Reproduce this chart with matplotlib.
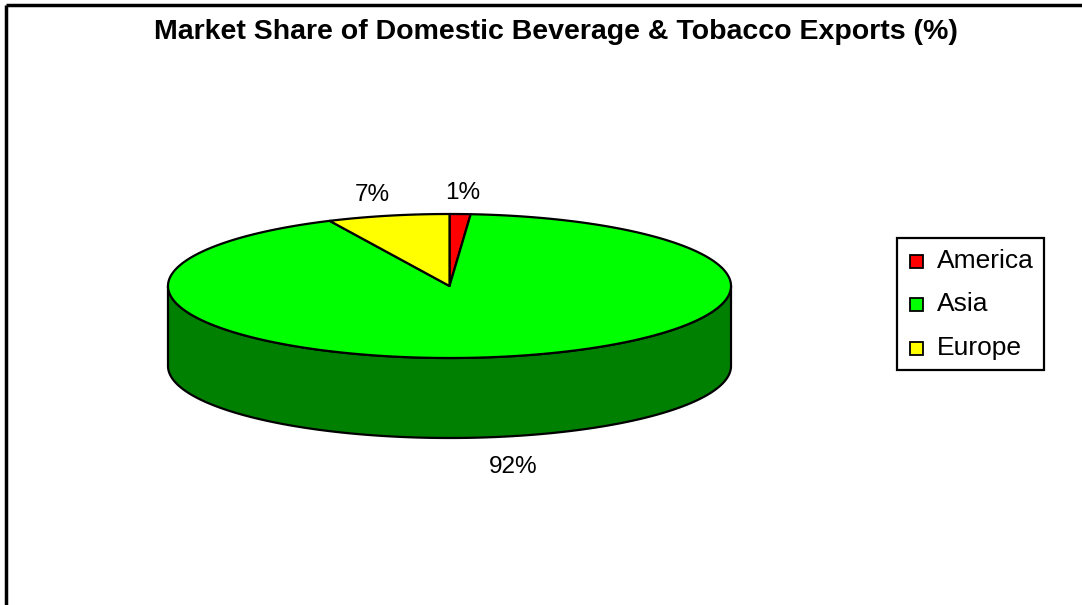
import numpy as np
import matplotlib
matplotlib.use("Agg")
import matplotlib.pyplot as plt
from matplotlib.patches import Polygon, Rectangle

plt.rcParams['font.family'] = ['Liberation Sans', 'DejaVu Sans']

# ---- data ----
title = "Market Share of Domestic Beverage & Tobacco Exports (%)"
categories = ["America", "Asia", "Europe"]
values = [1.2, 91.8, 7.0]
top_colors = ["#FF0000", "#00FF00", "#FFFF00"]
side_colors = ["#800000", "#008000", "#808000"]

# ---- layout (pixel coordinates) ----
W, H = 1082, 605
cx, cy = 449.5, 286.0
rx, ry = 281.5, 72.0
depth = 80.0

fig = plt.figure(figsize=(W / 100, H / 100), dpi=100)
ax = fig.add_axes([0, 0, 1, 1])
ax.set_xlim(0, W)
ax.set_ylim(H, 0)
ax.axis("off")


def pt(theta_deg, rxx=rx, ryy=ry, dy=0.0):
    t = np.radians(theta_deg)
    return cx + rxx * np.sin(t), cy - ryy * np.cos(t) + dy


total = float(sum(values))
starts = np.concatenate([[0.0], np.cumsum(values)[:-1]]) / total * 360.0
ends = np.cumsum(values) / total * 360.0

# side faces (front half: theta in [90, 270])
for s, e, sc in zip(starts, ends, side_colors):
    a0, a1 = max(s, 90.0), min(e, 270.0)
    if a1 <= a0:
        continue
    th = np.linspace(a0, a1, 200)
    xs, ys = pt(th)
    xb, yb = pt(th[::-1], dy=depth)
    poly = np.column_stack([np.concatenate([xs, xb]), np.concatenate([ys, yb])])
    ax.add_patch(Polygon(poly, closed=True, facecolor=sc, edgecolor="black",
                         linewidth=1.6, joinstyle="round", zorder=2))

# top faces
for s, e, tc in zip(starts, ends, top_colors):
    th = np.linspace(s, e, max(int((e - s) * 3), 4))
    xs, ys = pt(th)
    poly = np.column_stack([np.concatenate([[cx], xs]), np.concatenate([[cy], ys])])
    ax.add_patch(Polygon(poly, closed=True, facecolor=tc, edgecolor="black",
                         linewidth=1.6, joinstyle="round", zorder=3))

# percentage labels
Rl, Rly = 352.0, 93.0
for s, e, v in zip(starts, ends, values):
    mid = (s + e) / 2.0
    dy = depth + 10 if 90 < mid < 270 else 0.0
    x, y = pt(mid, Rl, Rly, dy)
    ax.text(x, y, f"{round(v / total * 100):.0f}%", ha="center", va="center",
            fontsize=17.5, zorder=5)

# title
ax.text(556, 32, title, ha="center", va="center", fontsize=20.5,
        fontweight="bold", zorder=5)

# legend
lx0, ly0, lw, lh = 897, 238, 147, 132
ax.add_patch(Rectangle((lx0, ly0), lw, lh, facecolor="white", edgecolor="black",
                       linewidth=1.6, zorder=4))
row_y = [261, 304, 348]
for yy, name, c in zip(row_y, categories, top_colors):
    ax.add_patch(Rectangle((910, yy - 6.5), 13, 13, facecolor=c, edgecolor="black",
                           linewidth=1.3, zorder=5))
    ax.text(937, yy, name, ha="left", va="center", fontsize=19, zorder=5)

# chart area border (top and left visible)
ax.plot([5.5, W], [4.5, 4.5], color="black", linewidth=2.5, solid_capstyle="butt")
ax.plot([5.5, 5.5], [4.5, H], color="black", linewidth=2.5, solid_capstyle="butt")

fig.savefig("out.png", dpi=100, facecolor="white")
